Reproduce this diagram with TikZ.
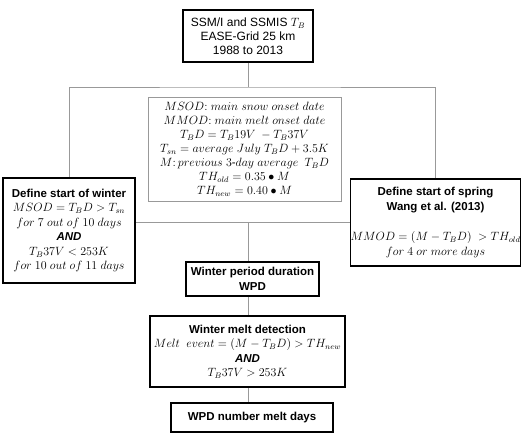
\documentclass[tikz,border=0pt]{standalone}
\usepackage{amsmath}
\usepackage{fontspec}
\setmainfont{Liberation Sans}
\begin{document}
\begin{tikzpicture}[x=1pt,y=-1pt,
  txt/.style={font=\fontsize{11.5}{14.5}\selectfont, align=center, inner sep=0pt},
  boxk/.style={txt, draw=black, line width=1.6pt},
  boxg/.style={txt, draw=gray!80, line width=0.8pt, font=\fontsize{11.5}{14}\selectfont},
  link/.style={draw=gray!80, line width=0.8pt}]
\useasboundingbox (0,0) rectangle (522,437);
\node[boxk, minimum width=130pt, minimum height=52pt, font=\fontsize{12}{14}\selectfont] (top) at (248,36)
  {SSM/I and SSMIS $T_B$\\EASE-Grid 25 km\\1988 to 2013};
\node[boxg, minimum width=193pt, minimum height=104pt] (defs) at (244.5,149)
  {$MSOD{:}\ main\ snow\ onset\ date$\\
   $MMOD{:}\ main\ melt\ onset\ date$\\
   $T_BD = T_B19V\ - T_B37V$\\
   $T_{sn} = average\ July\ T_BD + 3.5K$\\
   $M{:}\, previous\ 3$-$day\ average\ \ T_BD$\\
   $TH_{old} = 0.35 \bullet M$\\
   $TH_{new} = 0.40 \bullet M$};
\node[boxk, minimum width=132pt, minimum height=105pt] (winter) at (69,230.5)
  {\textbf{Define start of winter}\\
   $MSOD = T_BD > T_{sn}$\\
   $for\ 7\ out\ of\ 10\ days$\\
   \textbf{\textit{AND}}\\
   $T_B37V < 253K$\\
   $for\ 10\ out\ of\ 11\ days$};
\node[boxk, minimum width=167pt, minimum height=87pt] (spring) at (435.5,222.5)
  {\textbf{Define start of spring}\\
   \textbf{Wang et al. (2013)}\\[16pt]
   $MMOD = (M - T_BD)\ > TH_{old}$\\
   $for\ 4\ or\ more\ days$};
\node[boxk, minimum width=133pt, minimum height=34pt] (wpd) at (252.5,279)
  {\textbf{Winter period duration}\\\textbf{WPD}};
\node[boxk, minimum width=195pt, minimum height=71pt] (melt) at (247.5,351.5)
  {\textbf{Winter melt detection}\\
   $Melt\ \ event = (M - T_BD) > TH_{new}$\\
   \textbf{\textit{AND}}\\
   $T_B37V > 253K$};
\node[boxk, minimum width=162pt, minimum height=29pt] (final) at (252,417.5)
  {\textbf{WPD number melt days}};
\coordinate (j1) at (248,87);
\coordinate (j2) at (248,222);
\draw[link] (top.south -| j1) -- (j1);
\draw[link] (winter.north) |- (j1) -| (spring.north);
\draw[link] (winter.east |- j2) -- (spring.west |- j2);
\draw[link] (j2) -- (wpd.north -| j2);
\draw[link] (wpd.south -| j2) -- (melt.north -| j2);
\draw[link] (melt.south -| j2) -- (final.north -| j2);
\end{tikzpicture}
\end{document}
